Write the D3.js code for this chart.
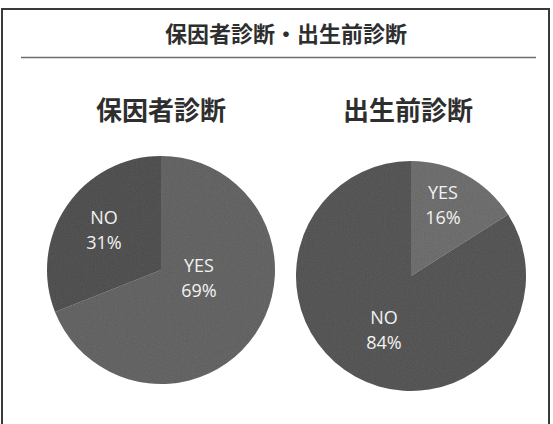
<!DOCTYPE html>
<html>
<head>
<meta charset="utf-8">
<script src="https://cdn.jsdelivr.net/npm/d3@7"></script>
<style>
  html, body { margin: 0; padding: 0; background: #fff; }
  svg { display: block; }
</style>
</head>
<body>
<svg id="chart" width="553" height="424"></svg>
<script>
// Survey answers for the two diagnoses (percent of respondents)
const mainTitle = "保因者診断・出生前診断";
const chartTitles = ["保因者診断", "出生前診断"];
const answerLabels = ["YES", "NO"];
const carrierValues = [69, 31];
const prenatalValues = [16, 84];

// Layout and styling for each pie
const pies = [
  { title: chartTitles[0], values: carrierValues, cx: 161, cy: 270, r: 114, titleX: 161,
    colors: ["#606060", "#4b4b4b"], labelOffsets: [[38, 8], [-57, -40]] },
  { title: chartTitles[1], values: prenatalValues, cx: 411, cy: 276, r: 115, titleX: 408,
    colors: ["#6b6b6b", "#505050"], labelOffsets: [[32, -71], [-27, 54]] }
];

const svg = d3.select("#chart");

// Fine print-like grain on the filled slices
const defs = svg.append("defs");
const grain = defs.append("filter").attr("id", "grain")
  .attr("color-interpolation-filters", "sRGB")
  .attr("x", "-5%").attr("y", "-5%").attr("width", "110%").attr("height", "110%");
grain.append("feTurbulence")
  .attr("type", "fractalNoise").attr("baseFrequency", 0.9).attr("numOctaves", 2)
  .attr("seed", 3).attr("result", "noise");
grain.append("feColorMatrix").attr("in", "noise").attr("type", "matrix")
  .attr("values", "0.33 0.33 0.33 0 0  0.33 0.33 0.33 0 0  0.33 0.33 0.33 0 0  0 0 0 0 0.12")
  .attr("result", "grey");
grain.append("feComposite").attr("in", "grey").attr("in2", "SourceGraphic")
  .attr("operator", "in").attr("result", "clipped");
const merge = grain.append("feMerge");
merge.append("feMergeNode").attr("in", "SourceGraphic");
merge.append("feMergeNode").attr("in", "clipped");

// Outer frame
svg.append("rect")
  .attr("x", 2).attr("y", 9).attr("width", 547).attr("height", 430)
  .attr("fill", "#fff").attr("stroke", "#3a3a3a").attr("stroke-width", 2);

svg.append("text")
  .attr("x", 286).attr("y", 42)
  .attr("text-anchor", "middle")
  .attr("font-family", "'Noto Sans CJK JP', sans-serif")
  .attr("font-weight", 700).attr("font-size", 22)
  .attr("fill", "#2e2e2e")
  .text(mainTitle);

svg.append("line")
  .attr("x1", 21).attr("x2", 536).attr("y1", 57.5).attr("y2", 57.5)
  .attr("stroke", "#6e6e6e").attr("stroke-width", 1.5);

const pie = d3.pie().sort(null).value(d => d);

pies.forEach(p => {
  svg.append("text")
    .attr("x", p.titleX).attr("y", 120)
    .attr("text-anchor", "middle")
    .attr("font-family", "'Noto Sans CJK JP', sans-serif")
    .attr("font-weight", 700).attr("font-size", 26)
    .attr("fill", "#2e2e2e")
    .text(p.title);

  const arc = d3.arc().innerRadius(0).outerRadius(p.r);
  const g = svg.append("g").attr("transform", `translate(${p.cx},${p.cy})`);
  const arcs = pie(p.values);

  g.append("g").attr("filter", "url(#grain)")
    .selectAll("path").data(arcs).join("path")
    .attr("d", arc)
    .attr("fill", (d, i) => p.colors[i]);

  const labels = g.selectAll("text.lbl").data(arcs).join("text")
    .attr("class", "lbl")
    .attr("text-anchor", "middle")
    .attr("font-family", "'Open Sans', sans-serif")
    .attr("font-size", 18)
    .attr("fill", "#f2f2f2")
    .attr("transform", (d, i) => `translate(${p.labelOffsets[i][0]},${p.labelOffsets[i][1]})`);
  labels.append("tspan").attr("x", 0).attr("y", -6).text((d, i) => answerLabels[i]);
  labels.append("tspan").attr("x", 0).attr("y", 19).text(d => d.data + "%");
});
</script>
</body>
</html>
